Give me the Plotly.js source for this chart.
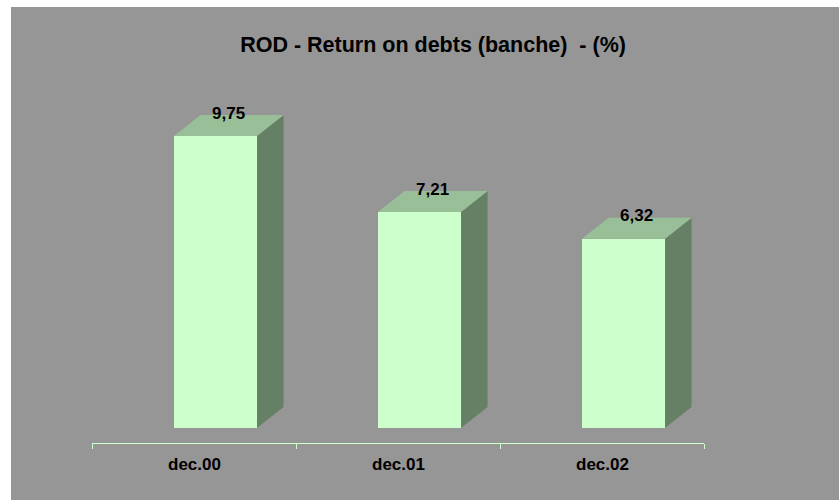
<!DOCTYPE html>
<html>
<head>
<meta charset="utf-8">
<script src="https://cdn.plot.ly/plotly-3.0.1.min.js"></script>
<style>
  html, body { margin: 0; padding: 0; background: #ffffff; }
  #plot { position: absolute; left: 11px; top: 7px; width: 828px; height: 493px; }
</style>
</head>
<body>
<div id="plot"></div>
<script>
// data
const categories = ["dec.00", "dec.01", "dec.02"];
const rodValues = [9.75, 7.21, 6.32];

// fake-3D look (data units)
const barOff = -0.098, barW = 0.407;
const depthX = 0.13, depthY = 0.70;

const FRONT = "#CCFFCC", TOP = "#99BF99", SIDE = "#668066";
const FONT = "Liberation Sans, Arial, sans-serif";

function fmtIt(v){ return v.toFixed(2).replace(".", ","); }

const traces = [];

// front faces
traces.push({
  type: "bar",
  x: categories.map((c, i) => i),
  y: rodValues,
  base: 0,
  width: barW,
  offset: barOff,
  marker: { color: FRONT, line: { width: 0 } },
  hoverinfo: "skip"
});

// side + top faces
rodValues.forEach((v, i) => {
  const x0 = i + barOff, x1 = x0 + barW;
  traces.push({
    type: "scatter", mode: "none", fill: "toself", fillcolor: SIDE,
    x: [x1, x1 + depthX, x1 + depthX, x1, x1],
    y: [0, depthY, v + depthY, v, 0],
    hoverinfo: "skip"
  });
  traces.push({
    type: "scatter", mode: "none", fill: "toself", fillcolor: TOP,
    x: [x0, x1, x1 + depthX, x0 + depthX, x0],
    y: [v, v, v + depthY, v + depthY, v],
    hoverinfo: "skip"
  });
});

const annotations = [];
rodValues.forEach((v, i) => {
  annotations.push({
    x: i + barOff + barW / 2 + depthX / 2, y: v + depthY,
    xref: "x", yref: "y", text: fmtIt(v), showarrow: false,
    yanchor: "middle", yshift: 2,
    font: { family: FONT, size: 17, color: "#000", weight: "bold" }
  });
});
categories.forEach((c, i) => {
  annotations.push({
    x: i, y: 0, xref: "x", yref: "paper", text: c, showarrow: false,
    yanchor: "middle", yshift: -21,
    font: { family: FONT, size: 17, color: "#000", weight: "bold" }
  });
});

const layout = {
  width: 828, height: 493,
  margin: { l: 81, r: 135, t: 53, b: 57 },
  paper_bgcolor: "#969696",
  plot_bgcolor: "rgba(0,0,0,0)",
  showlegend: false,
  title: {
    text: "ROD - Return on debts (banche)  - (%)",
    xref: "container", x: 0.5097, xanchor: "center",
    yref: "container", y: 0.923, yanchor: "middle",
    font: { family: FONT, size: 21.5, color: "#000", weight: "bold" }
  },
  xaxis: {
    range: [-0.5, 2.5],
    tickvals: [-0.5, 0.5, 1.5, 2.5],
    ticktext: ["", "", "", ""],
    ticks: "outside", ticklen: 5, tickcolor: FRONT, tickwidth: 1,
    showline: true, linecolor: FRONT, linewidth: 1,
    showgrid: false, zeroline: false, fixedrange: true
  },
  yaxis: {
    range: [-0.5008, 12.287],
    visible: false, showgrid: false, zeroline: false, fixedrange: true
  },
  annotations: annotations,
  bargap: 0
};

Plotly.newPlot("plot", traces, layout, { displayModeBar: false, staticPlot: true });
</script>
</body>
</html>
